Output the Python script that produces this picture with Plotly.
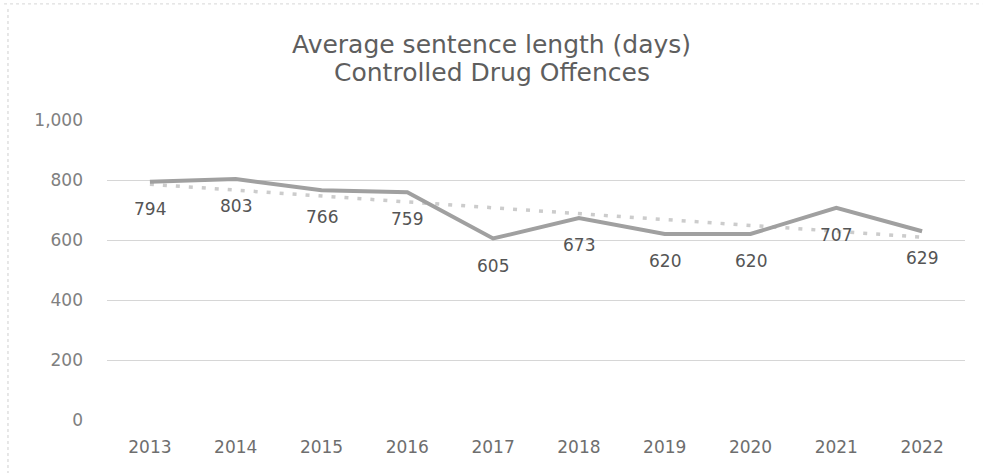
import numpy as np
import plotly.graph_objects as go

# Average sentence length (days) for controlled drug offences
years = ["2013", "2014", "2015", "2016", "2017", "2018", "2019", "2020", "2021", "2022"]
avg_days = [794, 803, 766, 759, 605, 673, 620, 620, 707, 629]
y_ticks = [0, 200, 400, 600, 800, 1000]
y_tick_labels = ["0", "200", "400", "600", "800", "1,000"]
title_lines = ["Average sentence length (days)", "Controlled Drug Offences"]

# Linear trendline fitted to the yearly values
idx = np.arange(len(avg_days))
slope, intercept = np.polyfit(idx, avg_days, 1)
trend = slope * idx + intercept

FONT = "DejaVu Sans"

fig = go.Figure()

fig.add_trace(go.Scatter(
    x=years, y=trend, mode="lines",
    line=dict(color="#cccccc", width=3.5, dash="4px,9px"),
    hoverinfo="skip", showlegend=False,
))

fig.add_trace(go.Scatter(
    x=years, y=avg_days, mode="lines",
    line=dict(color="#a0a0a0", width=4),
    showlegend=False,
))

# Value labels placed below each point (category index positions)
for i, v in enumerate(avg_days):
    fig.add_annotation(
        x=i, y=v, xref="x", yref="y", text=f"{v:,}",
        showarrow=False, yshift=-27, xanchor="center", yanchor="middle",
        font=dict(family=FONT, size=17, color="#555555"),
    )

# Two-line chart title, centred on the page
for text, ypos in zip(title_lines, [1.253, 1.157]):
    fig.add_annotation(
        x=0.4487, y=ypos, xref="paper", yref="paper", text=text,
        showarrow=False, xanchor="center", yanchor="middle",
        font=dict(family=FONT, size=25, color="#5e5e5e"),
    )

fig.update_layout(
    width=984, height=473,
    margin=dict(l=107, r=19, t=120, b=53),
    paper_bgcolor="white", plot_bgcolor="white",
    xaxis=dict(
        type="category", range=[-0.5, len(years) - 0.5],
        showgrid=False, zeroline=False, showline=False,
        ticks="", ticklabelstandoff=15,
        tickfont=dict(family=FONT, size=17, color="#6e6e6e"),
    ),
    yaxis=dict(
        range=[0, 1000], tickvals=y_ticks, ticktext=y_tick_labels,
        showgrid=True, gridcolor="#d6d6d6", gridwidth=1.2,
        zeroline=False, showline=False, ticks="", ticklabelstandoff=23,
        tickfont=dict(family=FONT, size=17, color="#808080"),
    ),
)

# Faint dotted frame around the chart area
fig.add_shape(type="line", xref="paper", yref="paper",
              x0=-0.1154, x1=-0.1154, y0=-0.18, y1=1.37,
              line=dict(color="#cfcfcf", width=1, dash="dot"))
fig.add_shape(type="line", xref="paper", yref="paper",
              x0=-0.12, x1=1.02, y0=1.387, y1=1.387,
              line=dict(color="#d6d6d6", width=1, dash="dot"))

fig.write_html("out.html")
